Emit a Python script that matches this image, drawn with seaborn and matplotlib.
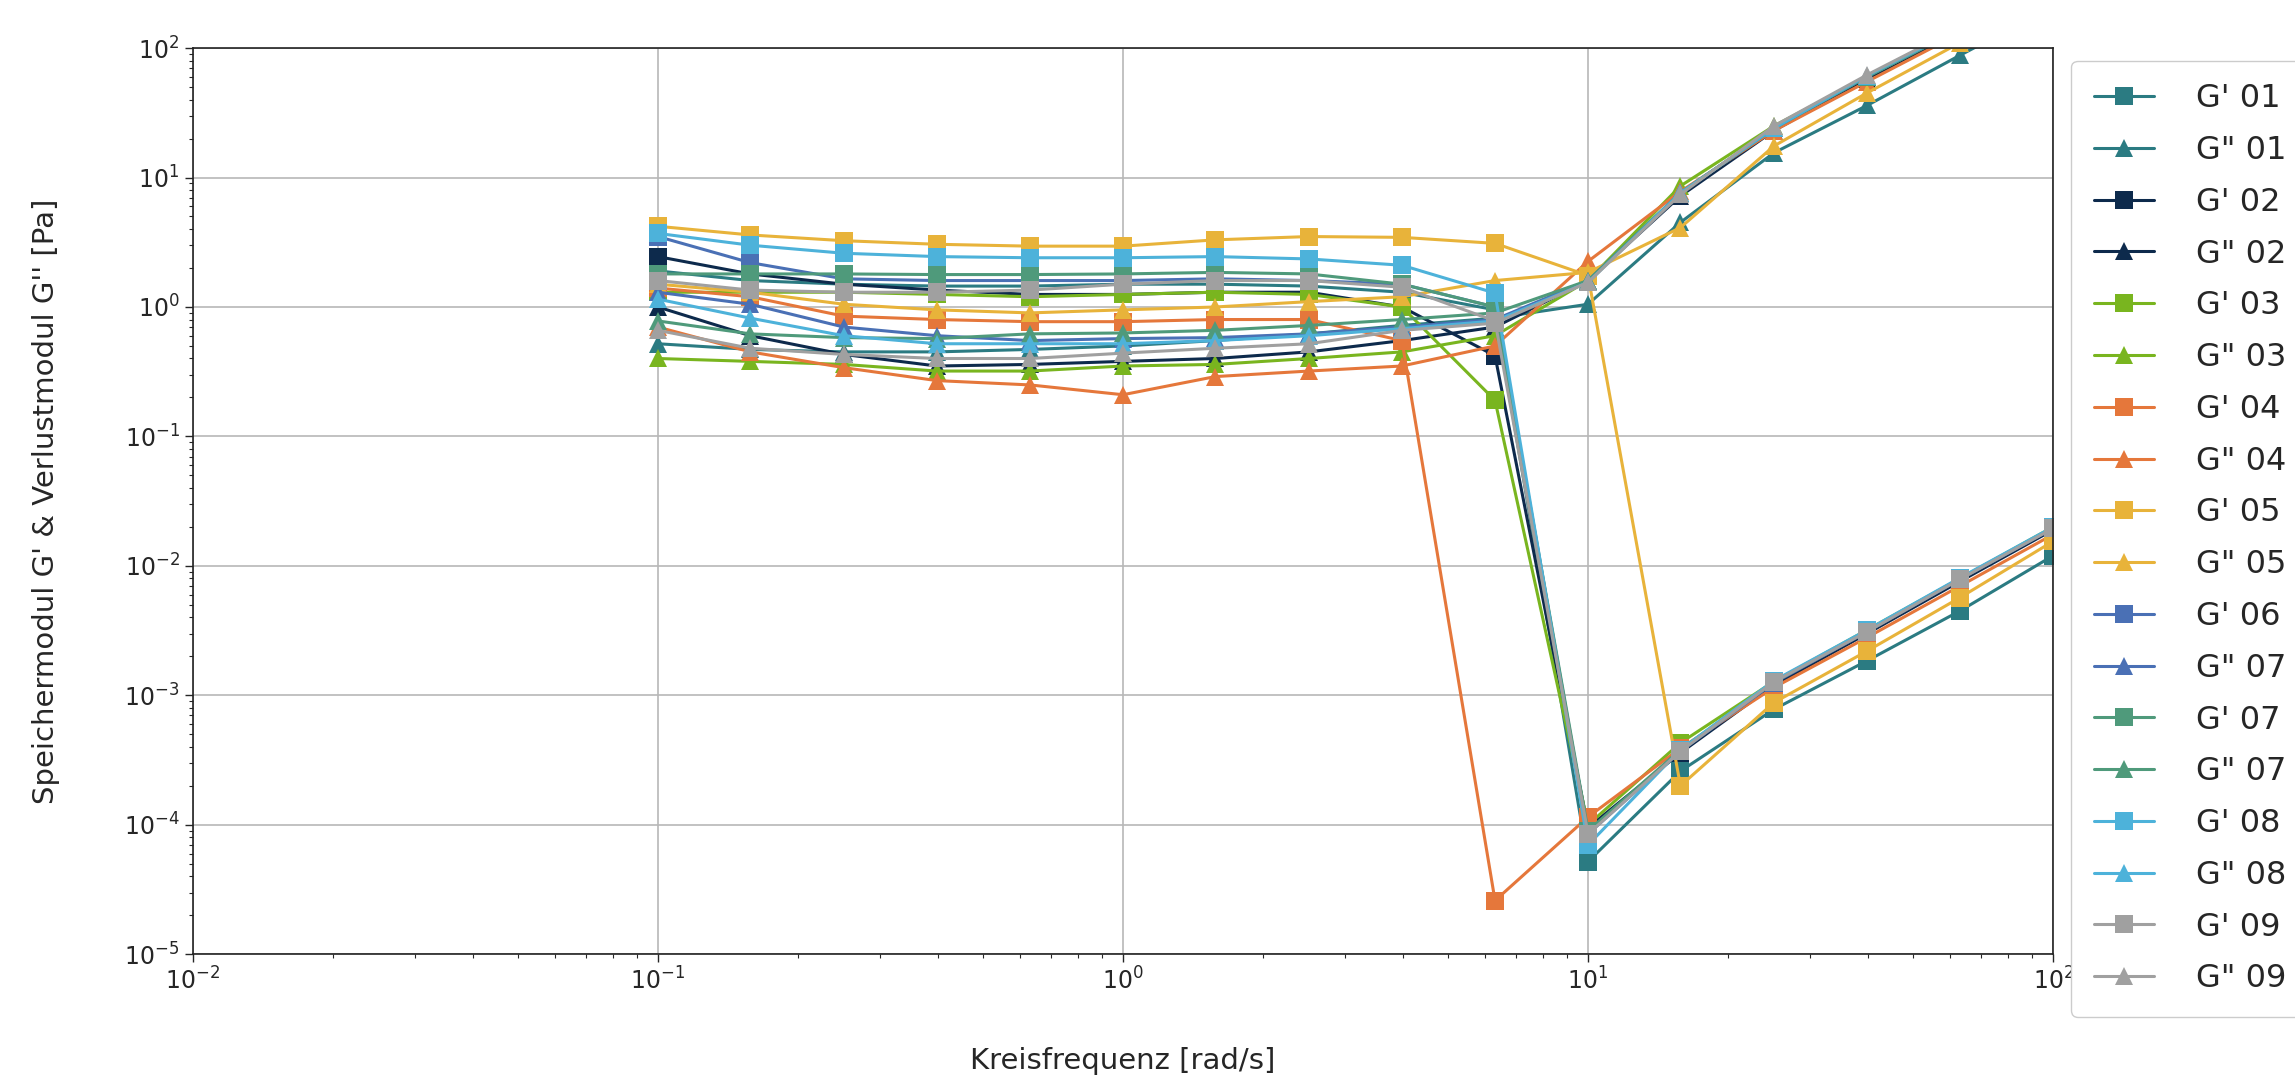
#!/usr/bin/env python3
"""
Frequenzsweep G' / G'' - Speicher- und Verlustmodul
"""

import numpy as np
import pandas as pd
import matplotlib
matplotlib.use("Agg")
import matplotlib.pyplot as plt
import seaborn as sns

# Kreisfrequenz [rad/s]
freq = [0.1, 0.158, 0.251, 0.398, 0.631, 1.0, 1.58, 2.51, 3.98, 6.31,
        10.0, 15.8, 25.1, 39.8, 63.1, 100.0]

# Speichermodul G' [Pa]
g1_01 = [1.9, 1.6, 1.5, 1.45, 1.45, 1.5, 1.5, 1.45, 1.3, 0.95,
         5.2e-5, 2.6e-4, 7.8e-4, 1.85e-3, 4.5e-3, 1.2e-2]
g1_02 = [2.45, 1.8, 1.5, 1.35, 1.25, 1.25, 1.3, 1.3, 1.0, 0.42,
         9.5e-5, 3.6e-4, 1.2e-3, 3.0e-3, 7.6e-3, 1.9e-2]
g1_03 = [1.3, 1.3, 1.3, 1.25, 1.2, 1.25, 1.3, 1.25, 1.0, 0.19,
         1.0e-4, 4.3e-4, 1.28e-3, 3.2e-3, 8.0e-3, 2.0e-2]
g1_04 = [1.4, 1.2, 0.85, 0.8, 0.77, 0.77, 0.8, 0.8, 0.55, 2.6e-5,
         1.15e-4, 3.9e-4, 1.15e-3, 2.8e-3, 7.0e-3, 1.75e-2]
g1_05 = [4.2, 3.6, 3.25, 3.05, 2.95, 2.95, 3.3, 3.5, 3.45, 3.1,
         1.75, 2.0e-4, 8.8e-4, 2.2e-3, 5.7e-3, 1.55e-2]
g1_06 = [3.5, 2.2, 1.65, 1.6, 1.6, 1.6, 1.65, 1.6, 1.5, 1.0,
         8.5e-5, 3.7e-4, 1.25e-3, 3.1e-3, 7.9e-3, 1.95e-2]
g1_07 = [1.8, 1.8, 1.8, 1.78, 1.78, 1.8, 1.85, 1.8, 1.5, 1.0,
         9.0e-5, 3.8e-4, 1.27e-3, 3.15e-3, 8.0e-3, 1.97e-2]
g1_08 = [3.7, 3.0, 2.6, 2.45, 2.4, 2.4, 2.45, 2.35, 2.1, 1.28,
         7.0e-5, 3.8e-4, 1.3e-3, 3.2e-3, 8.1e-3, 2.0e-2]
g1_09 = [1.6, 1.35, 1.3, 1.3, 1.35, 1.5, 1.6, 1.6, 1.42, 0.78,
         8.5e-5, 3.7e-4, 1.27e-3, 3.1e-3, 7.9e-3, 1.95e-2]

# Verlustmodul G'' [Pa]
g2_01 = [0.52, 0.47, 0.45, 0.45, 0.47, 0.5, 0.55, 0.62, 0.72, 0.82,
         1.05, 4.5, 15.5, 36.0, 88.0, 210.0]
g2_02 = [1.0, 0.6, 0.43, 0.35, 0.36, 0.38, 0.4, 0.45, 0.55, 0.7,
         1.6, 7.2, 23.0, 58.0, 135.0, 320.0]
g2_03 = [0.4, 0.38, 0.36, 0.32, 0.32, 0.35, 0.36, 0.4, 0.45, 0.6,
         1.6, 8.6, 25.0, 60.0, 140.0, 330.0]
g2_04 = [0.7, 0.45, 0.34, 0.27, 0.25, 0.21, 0.29, 0.32, 0.35, 0.5,
         2.25, 7.8, 23.0, 55.0, 130.0, 300.0]
g2_05 = [1.5, 1.3, 1.05, 0.95, 0.9, 0.95, 1.0, 1.1, 1.2, 1.6,
         1.85, 4.1, 17.5, 45.0, 110.0, 260.0]
g2_06 = [1.3, 1.05, 0.7, 0.6, 0.55, 0.57, 0.58, 0.62, 0.7, 0.8,
         1.6, 7.6, 24.0, 60.0, 140.0, 330.0]
g2_07 = [0.78, 0.62, 0.58, 0.57, 0.62, 0.63, 0.66, 0.72, 0.8, 0.9,
         1.6, 7.6, 24.0, 60.0, 140.0, 330.0]
g2_08 = [1.15, 0.82, 0.6, 0.52, 0.52, 0.52, 0.55, 0.6, 0.68, 0.78,
         1.55, 7.6, 24.0, 61.0, 142.0, 335.0]
g2_09 = [0.66, 0.48, 0.43, 0.4, 0.4, 0.44, 0.48, 0.52, 0.66, 0.75,
         1.55, 7.4, 25.0, 62.0, 145.0, 340.0]

samples = ["01", "02", "03", "04", "05", "06", "07", "08", "09"]
storage = [g1_01, g1_02, g1_03, g1_04, g1_05, g1_06, g1_07, g1_08, g1_09]
loss = [g2_01, g2_02, g2_03, g2_04, g2_05, g2_06, g2_07, g2_08, g2_09]
sample_colors = ["#2b7b82", "#0d2a4c", "#79b51f", "#e5773b", "#e8b33a",
                 "#4a70b5", "#4f9a7b", "#4db2da", "#a0a0a0"]
# label shown in the legend (the original has "G" 07" twice)
legend_names = {'G" 06': 'G" 07'}

# build long table
rows = []
keys, palette, markers = [], {}, {}
for s, gp, gpp, col in zip(samples, storage, loss, sample_colors):
    for name, vals, mk in ((f"G' {s}", gp, "s"), (f'G" {s}', gpp, "^")):
        keys.append(name)
        palette[name] = col
        markers[name] = mk
        for f, v in zip(freq, vals):
            rows.append({"freq": f, "modul": v, "serie": name})
df = pd.DataFrame(rows)

sns.set_style("white")
plt.rcParams['font.family'] = ['DejaVu Sans']

fig = plt.figure(figsize=(22.95, 10.82), dpi=100)
ax = fig.add_axes([0.084, 0.118, 0.8106, 0.8376])

sns.lineplot(data=df, x="freq", y="modul", hue="serie", style="serie",
             hue_order=keys, style_order=keys, palette=palette,
             markers=markers, dashes=False, linewidth=2.2, markersize=13,
             markeredgewidth=0, ax=ax, sort=False, legend="full")

ax.set_xscale("log")
ax.set_yscale("log")
ax.set_xlim(1e-2, 1e2)
ax.set_ylim(1e-5, 1e2)
ax.grid(True, which="major", color="#b8b8b8", linewidth=1.2)
for sp in ax.spines.values():
    sp.set_color("#222222")
    sp.set_linewidth(1.2)
ax.tick_params(axis="both", which="major", labelsize=17, length=6, width=1, direction="out", bottom=True, left=True)
ax.tick_params(axis="both", which="minor", length=3, width=0.8, bottom=True, left=True)

ax.set_xlabel("Kreisfrequenz [rad/s]", fontsize=21, labelpad=38)
ax.set_ylabel("Speichermodul G' & Verlustmodul G'' [Pa]", fontsize=21, labelpad=46)

handles, labels = ax.get_legend_handles_labels()
labels = [legend_names.get(l, l) for l in labels]
leg = ax.legend(handles, labels, loc="upper left", bbox_to_anchor=(0.9025, 0.9436),
                bbox_transform=fig.transFigure, fontsize=23, frameon=True,
                labelspacing=0.65, handlelength=1.9, borderpad=0.7,
                borderaxespad=0, handletextpad=1.3,
                fancybox=True, edgecolor="#cccccc", framealpha=1.0)
for h in leg.legend_handles:
    h.set_linewidth(2.2)
    h.set_markersize(13)

fig.savefig("out.png", dpi=100)
plt.close(fig)
